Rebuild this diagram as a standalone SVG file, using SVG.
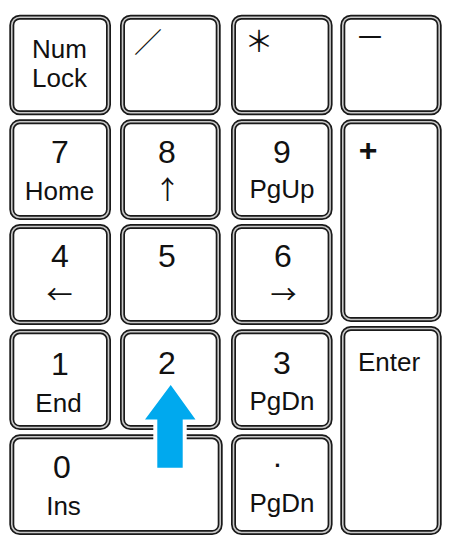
<svg xmlns="http://www.w3.org/2000/svg" width="455" height="551" viewBox="0 0 455 551">
<style>
.k{fill:#fff;stroke:#1a1a1a;stroke-width:5}
.ki{fill:none;stroke:#c8c8c8;stroke-width:1.6}
.t{font-family:"Liberation Sans",Arial,sans-serif;font-size:26px;fill:#111;text-anchor:middle}
.d{font-size:32px}
.j{font-family:"Noto Sans CJK JP",sans-serif;fill:#111}
.a{font-family:"Noto Sans CJK JP",sans-serif;font-size:26px;fill:#111;text-anchor:middle}
</style>
<rect width="455" height="551" fill="#fff"/>
<g id="key-numlock"><rect class="k" x="11.8" y="17.2" width="96.7" height="95.6" rx="8"/><rect class="ki" x="11.8" y="17.2" width="96.7" height="95.6" rx="8"/><text class="t" x="59.5" y="58">Num</text><text class="t" x="59.5" y="87">Lock</text></g>
<g id="key-slash"><rect class="k" x="122.5" y="17.2" width="95.7" height="95.6" rx="8"/><rect class="ki" x="122.5" y="17.2" width="95.7" height="95.6" rx="8"/><text class="j" x="134" y="53" font-size="28">／</text></g>
<g id="key-star"><rect class="k" x="233.5" y="17.2" width="96.6" height="95.6" rx="8"/><rect class="ki" x="233.5" y="17.2" width="96.6" height="95.6" rx="8"/><text class="j" x="244.5" y="52" font-size="29">＊</text></g>
<g id="key-minus"><rect class="k" x="342.8" y="17.2" width="96.4" height="95.6" rx="8"/><rect class="ki" x="342.8" y="17.2" width="96.4" height="95.6" rx="8"/><text class="j" x="355" y="47.5" font-size="30">－</text></g>
<g id="key-7"><rect class="k" x="11.8" y="121.8" width="96.7" height="95.7" rx="8"/><rect class="ki" x="11.8" y="121.8" width="96.7" height="95.7" rx="8"/><text class="t d" x="60" y="163">7</text><text class="t" x="59.5" y="200">Home</text></g>
<g id="key-8"><rect class="k" x="122.5" y="121.8" width="95.7" height="95.7" rx="8"/><rect class="ki" x="122.5" y="121.8" width="95.7" height="95.7" rx="8"/><text class="t d" x="167" y="163">8</text><text class="a" x="167.5" y="199">↑</text></g>
<g id="key-9"><rect class="k" x="233.5" y="121.8" width="96.6" height="95.7" rx="8"/><rect class="ki" x="233.5" y="121.8" width="96.6" height="95.7" rx="8"/><text class="t d" x="282" y="163">9</text><text class="t" x="282" y="198">PgUp</text></g>
<g id="key-plus"><rect class="k" x="342.8" y="121.8" width="96.4" height="197.7" rx="8"/><rect class="ki" x="342.8" y="121.8" width="96.4" height="197.7" rx="8"/><text x="368" y="161" font-family="Liberation Sans,Arial,sans-serif" font-weight="bold" font-size="32" fill="#111" text-anchor="middle">+</text></g>
<g id="key-4"><rect class="k" x="11.8" y="226.5" width="96.7" height="96" rx="8"/><rect class="ki" x="11.8" y="226.5" width="96.7" height="96" rx="8"/><text class="t d" x="60" y="267">4</text><text class="a" x="59.5" y="303.5">←</text></g>
<g id="key-5"><rect class="k" x="122.5" y="226.5" width="95.7" height="96" rx="8"/><rect class="ki" x="122.5" y="226.5" width="95.7" height="96" rx="8"/><text class="t d" x="167" y="267">5</text></g>
<g id="key-6"><rect class="k" x="233.5" y="226.5" width="96.6" height="96" rx="8"/><rect class="ki" x="233.5" y="226.5" width="96.6" height="96" rx="8"/><text class="t d" x="283" y="267">6</text><text class="a" x="283.5" y="303.5">→</text></g>
<g id="key-1"><rect class="k" x="11.8" y="331.8" width="96.7" height="95.7" rx="8"/><rect class="ki" x="11.8" y="331.8" width="96.7" height="95.7" rx="8"/><text class="t d" x="60" y="375">1</text><text class="t" x="58.5" y="411.5">End</text></g>
<g id="key-2"><rect class="k" x="122.5" y="331.8" width="95.7" height="95.7" rx="8"/><rect class="ki" x="122.5" y="331.8" width="95.7" height="95.7" rx="8"/><text class="t d" x="167" y="373.5">2</text></g>
<g id="key-3"><rect class="k" x="233.5" y="331.8" width="96.6" height="95.7" rx="8"/><rect class="ki" x="233.5" y="331.8" width="96.6" height="95.7" rx="8"/><text class="t d" x="282" y="373.5">3</text><text class="t" x="282" y="410">PgDn</text></g>
<g id="key-enter"><rect class="k" x="342.8" y="328.5" width="96.4" height="204" rx="8"/><rect class="ki" x="342.8" y="328.5" width="96.4" height="204" rx="8"/><text class="t" x="389" y="370.5">Enter</text></g>
<g id="key-0"><rect class="k" x="11.8" y="436.8" width="208.4" height="95.7" rx="8"/><rect class="ki" x="11.8" y="436.8" width="208.4" height="95.7" rx="8"/><text class="t d" x="62" y="477.5">0</text><text class="t" x="63.5" y="515">Ins</text></g>
<g id="key-dot"><rect class="k" x="233.5" y="436.8" width="96.6" height="95.7" rx="8"/><rect class="ki" x="233.5" y="436.8" width="96.6" height="95.7" rx="8"/><text class="t d" x="277.5" y="467">.</text><text class="t" x="282" y="511.5">PgDn</text></g>
<g id="connectors"><path d="M170.7 385 L195.5 419.5 L182.7 419.5 L182.7 467.7 L157.3 467.7 L157.3 419.5 L145 419.5 Z" fill="#00A9EE" stroke="#fff" stroke-width="8" paint-order="stroke" stroke-linejoin="miter"/></g>
</svg>
